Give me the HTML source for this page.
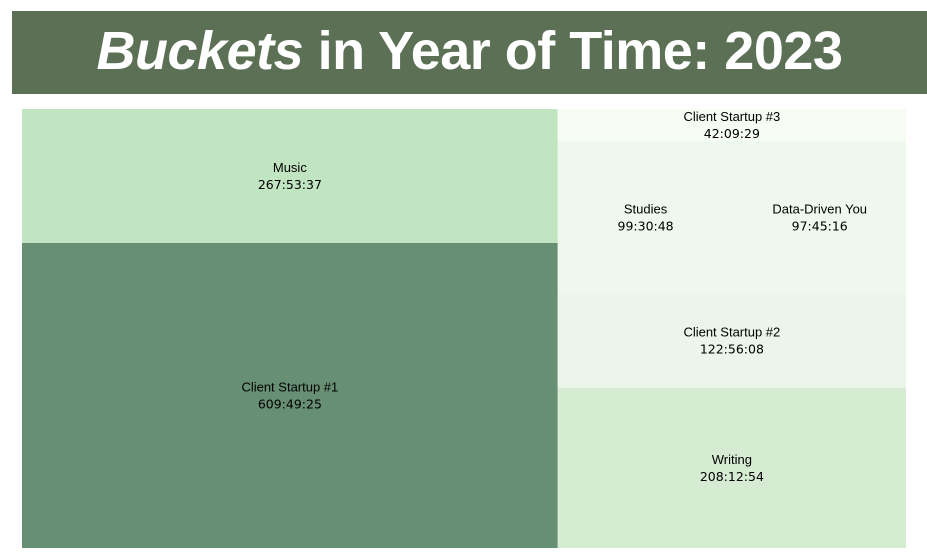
<!DOCTYPE html>
<html><head><meta charset="utf-8"><style>
body{margin:0;width:927px;height:558px;background:#fff;overflow:hidden;position:relative;font-family:"Liberation Sans",sans-serif}
#banner{position:absolute;left:12px;top:11px;width:915px;height:83px;background:#5c7056}
#title{position:absolute;left:0;width:915px;top:10px;text-align:center;color:#fff;font-weight:bold;font-size:54px;line-height:60px;letter-spacing:-0.5px}
svg{position:absolute;left:0;top:0}
.n{font-family:"Liberation Sans",sans-serif;font-size:13px}
.v{font-family:"DejaVu Sans",sans-serif;font-size:12.5px}
</style></head><body>
<div id="banner"><div id="title"><i>Buckets</i> in Year of Time: 2023</div></div>
<svg id="chart" width="927" height="558"></svg>
<script>
const names=["Client Startup #1","Music","Client Startup #3","Studies","Data-Driven You","Client Startup #2","Writing"];
const labels=["609:49:25","267:53:37","42:09:29","99:30:48","97:45:16","122:56:08","208:12:54"];
const hours=[609.82,267.89,42.16,99.51,97.75,122.94,208.22];
const colors=["#668f74","#c1e4c1","#f6fbf4","#eff8ed","#eff8ed","#ebf5e9","#d5ecd3"];
const X0=22,Y0=109,W=884,H=439;
const svg=document.getElementById('chart');
const NS='http://www.w3.org/2000/svg';
const sum=a=>a.reduce((s,i)=>s+hours[i],0);
const total=hours.reduce((a,b)=>a+b,0);
const left=[1,0], right=[2,[3,4],5,6];
const lw=W*sum(left)/total;
const rects=[];
let y=Y0;
left.forEach(i=>{const h=H*hours[i]/sum(left);rects.push([i,X0,y,lw,h]);y+=h;});
const rflat=[2,3,4,5,6];const rs=sum(rflat);
y=Y0;
right.forEach(g=>{
  const idx=Array.isArray(g)?g:[g];const gs=sum(idx);const h=H*gs/rs;
  let x=X0+lw;const rw=W-lw;
  idx.forEach(i=>{const w=rw*hours[i]/gs;rects.push([i,x,y,w,h]);x+=w;});
  y+=h;
});
rects.forEach(([i,x,yy,w,h])=>{
  const r=document.createElementNS(NS,'rect');
  r.setAttribute('x',x);r.setAttribute('y',yy);r.setAttribute('width',w);r.setAttribute('height',h);r.setAttribute('fill',colors[i]);
  
  
  svg.appendChild(r);
  const cx=x+w/2,cy=yy+h/2;
  const t=document.createElementNS(NS,'text');
  t.setAttribute('x',cx);t.setAttribute('y',cy-4);t.setAttribute('text-anchor','middle');t.setAttribute('class','n');
  t.textContent=names[i];
  
  
  svg.appendChild(t);
  const v=document.createElementNS(NS,'text');
  v.setAttribute('x',cx);v.setAttribute('y',cy+13);v.setAttribute('text-anchor','middle');v.setAttribute('class','v');
  v.textContent=labels[i];
  
  
  svg.appendChild(v);
});
</script>
</body></html>
